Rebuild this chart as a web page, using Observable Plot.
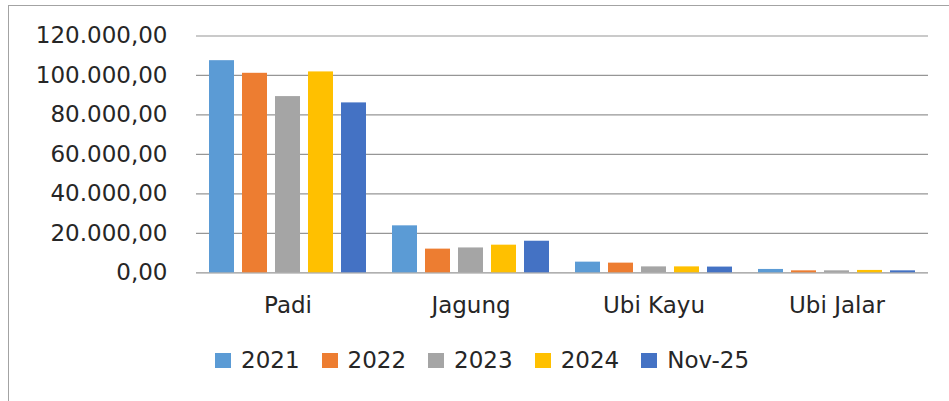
<!DOCTYPE html>
<html>
<head>
<meta charset="utf-8">
<script src="https://cdn.jsdelivr.net/npm/d3@7"></script>
<script src="https://cdn.jsdelivr.net/npm/@observablehq/plot@0.6"></script>
<style>
  html, body { margin: 0; padding: 0; background: #fff; }
  body { width: 949px; height: 401px; position: relative; overflow: hidden; font-family: "DejaVu Sans", sans-serif; color: #262626; }
  #frame { position: absolute; left: 8px; top: 5px; right: 0; bottom: 0; border-left: 1.5px solid #a3a3a3; border-top: 1.5px solid #a3a3a3; }
  #chart { position: absolute; left: 0; top: 0; }
  #legend { position: absolute; left: 215px; top: 347px; display: flex; align-items: center; font-size: 23px; line-height: 26px; white-space: nowrap; }
  .item { display: flex; align-items: center; margin-right: 22px; }
  .sw { width: 16px; height: 15px; margin-right: 10px; }
</style>
</head>
<body>
<div id="frame"></div>
<div id="chart"></div>
<div id="legend"></div>
<script>
const categories = ["Padi", "Jagung", "Ubi Kayu", "Ubi Jalar"];
const series = ["2021", "2022", "2023", "2024", "Nov-25"];
const v2021 = [107500, 23800, 5400, 1700];
const v2022 = [101100, 12000, 4900, 1000];
const v2023 = [89300, 12600, 3000, 1000];
const v2024 = [101800, 14000, 3000, 1200];
const vNov25 = [86100, 16000, 2900, 1000];
const yTicks = [0, 20000, 40000, 60000, 80000, 100000, 120000];
const colors = ["#5B9BD5", "#ED7D31", "#A5A5A5", "#FFC000", "#4472C4"];

const seriesValues = [v2021, v2022, v2023, v2024, vNov25];
const data = [];
categories.forEach((c, i) => {
  series.forEach((s, j) => {
    data.push({cat: c, series: s, value: seriesValues[j][i]});
  });
});

const idFormat = d3.formatLocale({decimal: ",", thousands: ".", grouping: [3], currency: ["", ""]}).format(",.2f");

const H = 330;
const chart = Plot.plot({
  width: 949,
  height: H,
  marginLeft: 195,
  marginRight: 21,
  marginTop: 35.5,
  marginBottom: H - 272.3,
  style: {fontFamily: "DejaVu Sans, sans-serif", fontSize: "23px", color: "#262626", background: "transparent"},
  fx: {domain: categories, paddingInner: 0, paddingOuter: 0, label: null},
  x: {domain: series, paddingInner: 0.235, paddingOuter: 0.31, axis: null},
  y: {domain: [0, 120000], label: null},
  color: {domain: series, range: colors},
  marks: [
    Plot.gridY(yTicks, {stroke: "#969696", strokeOpacity: 1, strokeWidth: 1.2}),
    Plot.axisY(yTicks, {tickSize: 0, tickPadding: 29, tickFormat: idFormat, fontSize: 23, label: null}),
    Plot.axisFx({anchor: "bottom", tickSize: 0, tickPadding: 24, fontSize: 23, label: null}),
    Plot.barY(data, {fx: "cat", x: "series", y: "value", fill: "series"})
  ]
});
document.getElementById("chart").appendChild(chart);

const legend = document.getElementById("legend");
series.forEach((s, j) => {
  const item = document.createElement("div");
  item.className = "item";
  const sw = document.createElement("span");
  sw.className = "sw";
  sw.style.background = colors[j];
  const t = document.createElement("span");
  t.textContent = s;
  item.appendChild(sw);
  item.appendChild(t);
  legend.appendChild(item);
});
</script>
</body>
</html>
